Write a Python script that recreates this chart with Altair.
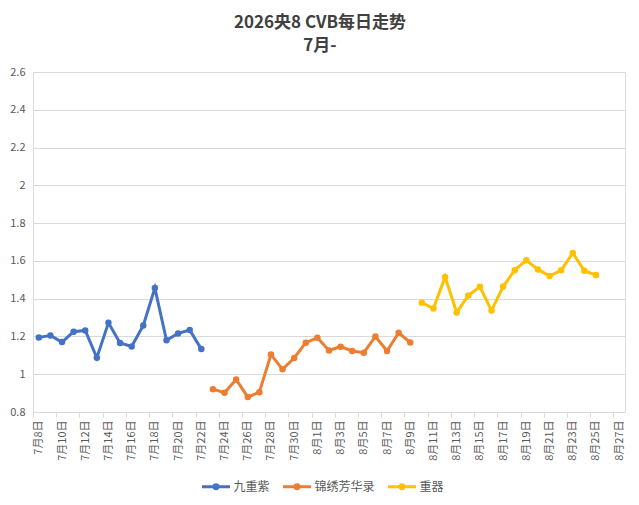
import altair as alt
import pandas as pd

# Categories (x axis): every day from 7月8日 to 8月27日
dates = [f"7月{d}日" for d in range(8, 32)] + [f"8月{d}日" for d in range(1, 28)]
axis_label_dates = dates[::2]

series_names = ["九重紫", "锦绣芳华录", "重器"]
series_colors = ["#4472C4", "#ED7D31", "#FFC000"]
series_start = ["7月8日", "7月23日", "8月10日"]

blue_values = [1.195, 1.205, 1.170, 1.225, 1.232, 1.087, 1.272, 1.165, 1.147,
               1.258, 1.456, 1.180, 1.216, 1.234, 1.133]
orange_values = [0.921, 0.902, 0.972, 0.879, 0.905, 1.104, 1.026, 1.086, 1.167,
                 1.193, 1.126, 1.146, 1.123, 1.114, 1.200, 1.123, 1.219, 1.168]
yellow_values = [1.379, 1.348, 1.515, 1.327, 1.417, 1.463, 1.337, 1.464, 1.551,
                 1.603, 1.555, 1.520, 1.550, 1.642, 1.548, 1.525]

y_ticks = [0.8, 1.0, 1.2, 1.4, 1.6, 1.8, 2.0, 2.2, 2.4, 2.6]

rows = []
for name, start, vals in zip(series_names, series_start,
                             [blue_values, orange_values, yellow_values]):
    i0 = dates.index(start)
    for k, v in enumerate(vals):
        rows.append({"series": name, "date": dates[i0 + k], "value": v})
df = pd.DataFrame(rows)

FONT = "Noto Sans CJK SC"
step = 592 / len(dates)

x_enc = alt.X(
    "date:O",
    sort=dates,
    title=None,
    scale=alt.Scale(type="point", domain=dates, padding=0.5),
    axis=alt.Axis(
        values=axis_label_dates,
        labelAngle=270,
        labelFontSize=11,
        labelFont=FONT,
        labelColor="#595959",
        domainColor="#d9d9d9",
        tickColor="#d9d9d9",
        tickSize=5,
        tickOffset=-step / 2,
        labelOffset=step / 2,
        labelPadding=3,
        labelOverlap=False,
        grid=False,
    ),
)
y_enc = alt.Y(
    "value:Q",
    title=None,
    scale=alt.Scale(domain=[0.8, 2.6], nice=False, zero=False),
    axis=alt.Axis(
        values=y_ticks,
        format="~g",
        labelFontSize=11,
        labelFont=FONT,
        labelColor="#595959",
        domain=False,
        ticks=False,
        tickSize=0,
        labelPadding=8,
        grid=True,
        gridColor="#d9d9d9",
    ),
)
color_scale = alt.Scale(domain=series_names, range=series_colors)

legend_symbol = "M-1,0H1M-0.14,0A0.14,0.14,0,1,1,0.14,0A0.14,0.14,0,1,1,-0.14,0Z"

line = alt.Chart(df).mark_line(strokeWidth=3).encode(
    x=x_enc,
    y=y_enc,
    color=alt.Color(
        "series:N",
        scale=color_scale,
        title=None,
        legend=alt.Legend(
            orient="none",
            legendX=167.5,
            legendY=399,
            direction="horizontal",
            symbolType=legend_symbol,
            symbolSize=784,
            symbolStrokeWidth=3,
            labelFontSize=12,
            labelFont=FONT,
            labelColor="#595959",
            labelOffset=2,
            columnPadding=6,
            padding=0,
        ),
    ),
)
points = alt.Chart(df).mark_point(filled=True, size=42, opacity=1).encode(
    x=x_enc,
    y=y_enc,
    color=alt.Color("series:N", scale=color_scale, legend=None),
)

chart = alt.layer(line, points).properties(
    width=592,
    height=340,
    autosize=alt.AutoSizeParams(type="none"),
    padding={"left": 25, "top": 64, "right": 5, "bottom": 83},
    title=alt.TitleParams(
        text="2026央8 CVB每日走势",
        subtitle="7月-",
        font=FONT,
        subtitleFont=FONT,
        fontSize=17,
        subtitleFontSize=17,
        fontWeight="bold",
        subtitleFontWeight="bold",
        color="#404040",
        subtitleColor="#404040",
        anchor="middle",
        frame="group",
        dx=-9,
        offset=11,
        subtitlePadding=6,
    ),
).configure_view(strokeWidth=0).configure(background="white")

chart.save("out.html", embed_options={"renderer": "svg", "actions": False})
